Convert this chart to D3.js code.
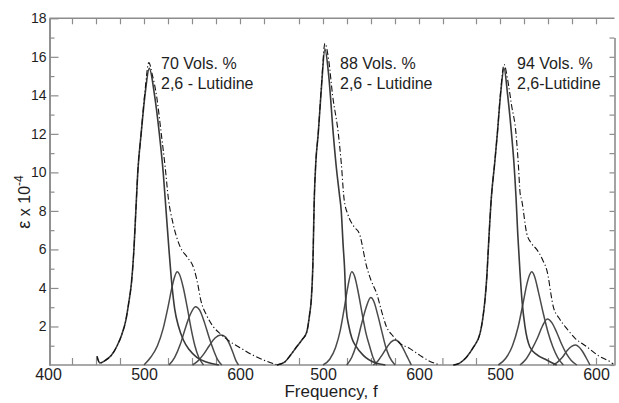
<!DOCTYPE html>
<html>
<head>
<meta charset="utf-8">
<script src="https://cdn.jsdelivr.net/npm/d3@7"></script>
<style>
  body { margin: 0; background: #fff; }
  text { font-family: "Liberation Sans", Arial, sans-serif; fill: #1e1e1e; }
</style>
</head>
<body>
<svg id="chart" width="619" height="403"></svg>
<script>
// values, [frequency, eps x 1e-4]
const yMajor = [2, 4, 6, 8, 10, 12, 14, 16, 18];
const yMinor = [1, 3, 5, 7, 9, 11, 13, 15, 17];
const xLabels = [[400, 500, 600], [500, 600], [500, 600]];
const volLabels = ["70 Vols. %", "88 Vols. %", "94 Vols. %"];
const lutLabels = ["2,6 - Lutidine", "2,6 - Lutidine", "2,6-Lutidine"];

// 70 vol %
const main70 = [[451,0.45],[454,0.1],[460,0.25],[466,0.5],[472,1.0],[477,1.6],[481,2.3],[484,3.2],[487,4.3],[489.5,6],[491.5,8],[493.5,10],[497,12],[501,14],[505.5,15.4],[511,14],[516,12],[520,10],[523,8],[526,6],[529,4.2],[532,2.9],[536,2.0],[541,1.3],[547,0.8],[555,0.4],[565,0.15],[578,0]];
const sum70 = [[451,0.45],[454,0.1],[460,0.25],[466,0.5],[472,1.0],[477,1.6],[481,2.3],[484,3.2],[487,4.3],[489.5,6],[491.5,8],[493.5,10],[497,12],[501,14.2],[505,15.7],[509,15],[513,14],[518,12],[522,10.3],[525.5,8.6],[530,7.4],[538,6.1],[545,5.6],[552,5.0],[556,4.2],[559,3.4],[565,2.6],[572,2.0],[580,1.6],[590,1.2],[600,0.9],[612,0.55],[625,0.25],[638,0.02]];
const band70a = [[500,0],[507,0.4],[514,1.0],[520,1.9],[525,3.0],[529,4.0],[532,4.6],[534.6,4.84],[537,4.7],[541,4.0],[545,3.0],[549,1.9],[553,1.0],[557,0.4],[562,0]];
const band70b = [[526,0],[532,0.4],[538,1.1],[543,1.9],[548,2.6],[553.6,3.03],[558,2.85],[563,2.2],[568,1.4],[573,0.7],[577,0.25],[581,0]];
const band70c = [[550.5,0],[556,0.2],[562,0.55],[568,1.0],[574,1.4],[580,1.56],[585,1.45],[589,1.1],[593,0.6],[596,0.2],[598.5,0]];

// 88 vol %
const main88 = [[452,0],[460,0.15],[466,0.5],[472.6,0.95],[478,1.3],[483,1.7],[486,2.6],[487.8,3.4],[489.4,5.1],[490.9,8.6],[492.5,10.5],[495,12],[498.5,14.5],[502,16.4],[506,15],[510.7,12],[514,10.2],[517,8.9],[519,8.0],[521,6.2],[522.4,5.1],[524.2,2.9],[527,2.0],[530,1.4],[534.6,0.95],[542,0.5],[555,0.1],[565,0]];
const sum88 = [[452,0],[460,0.15],[466,0.5],[472.6,0.95],[478,1.3],[483,1.7],[486,2.6],[487.8,3.4],[489.4,5.1],[490.9,8.6],[492.5,10.5],[495,12],[498.5,14.6],[502,16.7],[506,15.8],[510,14],[516,12],[519,10.5],[522,8.6],[526,7.8],[532,7.2],[538,6.8],[545.5,5.1],[550,4.4],[556,3.7],[561,2.8],[566,2.0],[573,1.5],[580,1.13],[590.6,0.85],[601,0.5],[611,0.2],[622,0]];
const band88a = [[500,0],[507,0.3],[513,0.9],[518,1.8],[522,2.9],[526,4.1],[529.9,4.84],[533,4.6],[537,3.7],[541,2.6],[545,1.6],[549,0.9],[552,0.4],[556,0]];
const band88b = [[524.7,0],[530,0.4],[535,1.1],[540,2.1],[545,3.0],[549.7,3.5],[553,3.3],[557,2.6],[561,1.8],[565,1.0],[569,0.45],[575,0]];
const band88c = [[552.4,0],[557,0.2],[562,0.55],[567,0.95],[571,1.2],[575,1.3],[579,1.2],[583,0.9],[587,0.5],[590,0.2],[592,0]];

// 94 vol %
const main94 = [[451.4,0],[458,0.1],[465,0.4],[472,0.9],[479.2,1.64],[482,2.4],[484.4,3.4],[486.3,4.6],[487.8,6.0],[491,8.7],[494.5,10.5],[497.2,12],[500.5,14],[504.2,15.4],[508,14],[512,12],[514.5,10.5],[516.7,8.7],[518.5,6.8],[520.8,4.84],[523,3.3],[526,2.0],[531,0.95],[538,0.55],[548.6,0.26],[559,0]];
const sum94 = [[451.4,0],[458,0.1],[465,0.4],[472,0.9],[479.2,1.64],[482,2.4],[484.4,3.4],[486.3,4.6],[487.8,6.0],[491,8.7],[494.5,10.5],[497.2,12],[500.5,14.1],[504.2,15.6],[508,14.8],[512,13.5],[516.7,12],[519,10.5],[521,8.9],[522.6,8.56],[527.8,6.84],[533,6.3],[538.2,6.0],[544,5.5],[550.3,4.58],[553,3.7],[555.5,3.03],[562,2.4],[569.4,1.9],[578,1.4],[590.3,0.95],[602,0.5],[614.6,0.17],[618,0.05]];
const band94a = [[498.3,0],[506,0.35],[513,1.0],[519,2.0],[524,3.2],[528,4.2],[531,4.7],[533,4.84],[536,4.6],[540,3.8],[545,2.7],[550,1.7],[555,0.95],[560,0.4],[566,0]];
const band94b = [[520.8,0],[527,0.3],[533,0.8],[539,1.4],[544,2.0],[549.3,2.39],[554,2.2],[559,1.7],[564,1.1],[569,0.6],[574,0.25],[580,0]];
const band94c = [[555.5,0],[560,0.15],[565,0.4],[570,0.75],[575,0.98],[578.9,1.04],[582,0.95],[586,0.7],[590,0.35],[593.75,0]];

const mains = [main70, main88, main94];
const sums = [sum70, sum88, sum94];
const bands = [[band70a, band70b, band70c], [band88a, band88b, band88c], [band94a, band94b, band94c]];
const topTicks = [[425,450,475,500,525,550,575,600,625], [475,500,525,550,575,600,625], [475,500,525,550,575,600]];
const bottomTicks = [[425,450,475,525,550,575], [475,525,550,575], [440,475,550,600]];

const svg = d3.select("#chart");
const left = 49.5, right = 614.5;
const axisColor = "#8c8c8c";

const y = d3.scaleLinear().domain([0, 18]).range([365, 18.3]);
// each panel has its own frequency scale, 96 px per 100 units
const panelX = [144, 323, 500].map(p0 =>
  d3.scaleLinear().domain([500, 600]).range([p0, p0 + 96]));

// frame
svg.append("line").attr("x1", left).attr("x2", right)
  .attr("y1", y(0)).attr("y2", y(0))
  .attr("stroke", axisColor).attr("stroke-width", 1.6);
svg.append("line").attr("x1", left).attr("x2", right)
  .attr("y1", y(18)).attr("y2", y(18))
  .attr("stroke", axisColor).attr("stroke-width", 1.4);

svg.append("g").attr("transform", `translate(${left},0)`)
  .call(d3.axisLeft(y).tickValues(yMajor).tickSizeInner(-9).tickSizeOuter(0).tickPadding(3));
svg.append("g").attr("transform", `translate(${left},0)`)
  .call(d3.axisLeft(y).tickValues(yMinor).tickSizeInner(-5).tickSizeOuter(0).tickFormat(""));

const yR = d3.scaleLinear().domain([0, 17]).range([y(0), y(17)]);
svg.append("g").attr("transform", `translate(${right},0)`)
  .call(d3.axisRight(yR).tickValues(d3.range(0, 18)).tickSizeInner(-5).tickSizeOuter(0).tickFormat(""));

panelX.forEach((x, i) => {
  svg.append("g").attr("transform", `translate(0,${y(18)})`)
    .call(d3.axisTop(x).tickValues(topTicks[i]).tickSizeInner(-6).tickSizeOuter(0).tickFormat(""))
    .call(g => g.select(".domain").remove());
  svg.append("g").attr("transform", `translate(0,${y(0)})`)
    .call(d3.axisBottom(x).tickValues(bottomTicks[i]).tickSizeInner(-7).tickSizeOuter(0).tickFormat(""))
    .call(g => g.select(".domain").remove());
  svg.append("g").attr("class", "xlab").attr("transform", `translate(0,${y(0)})`)
    .call(d3.axisBottom(x).tickValues(xLabels[i]).tickSize(0).tickPadding(4))
    .call(g => g.select(".domain").remove());
});

svg.selectAll(".tick line").attr("stroke", axisColor).attr("stroke-width", 1.2);
svg.selectAll(".domain").attr("stroke", axisColor).attr("stroke-width", 1.6);
svg.selectAll(".tick text").attr("font-family", "Liberation Sans, Arial, sans-serif")
  .attr("fill", "#1e1e1e").attr("font-size", 14);
svg.selectAll(".xlab .tick text").attr("font-size", 16);

// curves
panelX.forEach((x, i) => {
  const line = d3.line().x(d => x(d[0])).y(d => y(d[1])).curve(d3.curveMonotoneX);
  const g = svg.append("g").attr("fill", "none");
  bands[i].forEach(b => {
    g.append("path").attr("d", line(b))
      .attr("stroke", "#4a4a4a").attr("stroke-width", 1.5);
  });
  g.append("path").attr("d", line(mains[i]))
    .attr("stroke", "#3a3a3a").attr("stroke-width", 1.6);
  g.append("path").attr("d", line(sums[i]))
    .attr("stroke", "#111").attr("stroke-width", 1.1)
    .attr("stroke-dasharray", "6,2.5,1.2,2.5");

  svg.append("text").attr("x", x(500) + 17).attr("y", y(15.35))
    .attr("font-size", 16).text(volLabels[i]);
  svg.append("text").attr("x", x(500) + 17).attr("y", y(14.35))
    .attr("font-size", 16).text(lutLabels[i]);
});

// axis titles
svg.append("text").attr("x", 331).attr("y", 397)
  .attr("text-anchor", "middle").attr("font-size", 17).text("Frequency, f");

const yt = svg.append("text").attr("transform", "translate(30,202) rotate(-90)")
  .attr("text-anchor", "middle").attr("font-size", 16);
yt.append("tspan").attr("font-size", 18).text("\u03b5");
yt.append("tspan").text(" x 10");
yt.append("tspan").attr("dy", -7).attr("font-size", 12).text("-4");
</script>
</body>
</html>
